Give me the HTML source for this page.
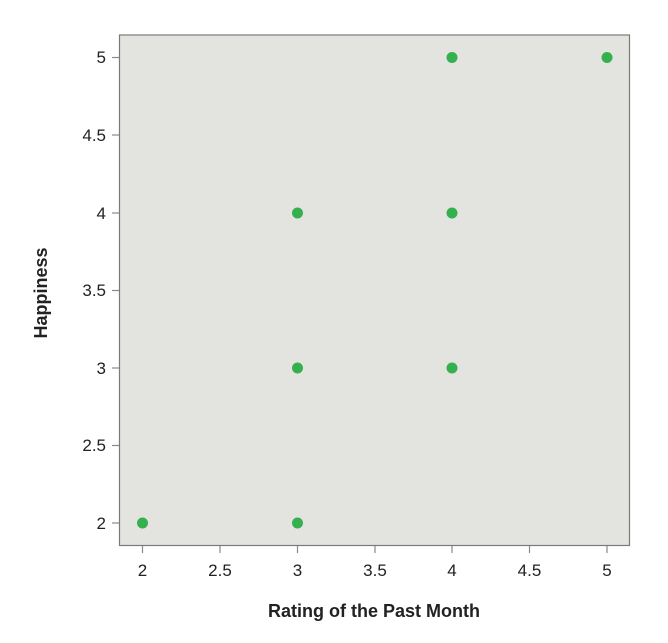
<!DOCTYPE html><html><head><style>body{margin:0;background:#fff}</style></head><body>
<svg width="668" height="638" xmlns="http://www.w3.org/2000/svg" font-family="Liberation Sans, sans-serif">
<rect x="119.5" y="35" width="510" height="510.5" fill="#e3e3df" stroke="#7a7a7a" stroke-width="1.2"/>
<g stroke="#888" stroke-width="1.2">
<line x1="142.5" y1="546" x2="142.5" y2="553"/><line x1="220" y1="546" x2="220" y2="553"/><line x1="297.5" y1="546" x2="297.5" y2="553"/><line x1="375" y1="546" x2="375" y2="553"/><line x1="452" y1="546" x2="452" y2="553"/><line x1="529.5" y1="546" x2="529.5" y2="553"/><line x1="607" y1="546" x2="607" y2="553"/>
<line x1="112" y1="523" x2="119" y2="523"/><line x1="112" y1="445.5" x2="119" y2="445.5"/><line x1="112" y1="368" x2="119" y2="368"/><line x1="112" y1="290.5" x2="119" y2="290.5"/><line x1="112" y1="213" x2="119" y2="213"/><line x1="112" y1="135" x2="119" y2="135"/><line x1="112" y1="57.5" x2="119" y2="57.5"/>
</g>
<g font-size="17" fill="#222" text-anchor="middle">
<text x="142.5" y="576">2</text><text x="220" y="576">2.5</text><text x="297.5" y="576">3</text><text x="375" y="576">3.5</text><text x="452" y="576">4</text><text x="529.5" y="576">4.5</text><text x="607" y="576">5</text>
</g>
<g font-size="17" fill="#222" text-anchor="end">
<text x="106" y="529">2</text><text x="106" y="451">2.5</text><text x="106" y="374">3</text><text x="106" y="296">3.5</text><text x="106" y="219">4</text><text x="106" y="141">4.5</text><text x="106" y="63">5</text>
</g>
<text x="374" y="617" font-size="18" font-weight="bold" fill="#222" text-anchor="middle">Rating of the Past Month</text>
<text transform="translate(47,293) rotate(-90)" font-size="18" font-weight="bold" fill="#222" text-anchor="middle">Happiness</text>
<g fill="#35b04f">
<circle cx="142.5" cy="523" r="5.5"/><circle cx="297.5" cy="523" r="5.5"/><circle cx="297.5" cy="368" r="5.5"/><circle cx="297.5" cy="213" r="5.5"/><circle cx="452" cy="368" r="5.5"/><circle cx="452" cy="213" r="5.5"/><circle cx="452" cy="57.5" r="5.5"/><circle cx="607" cy="57.5" r="5.5"/>
</g>
</svg></body></html>
